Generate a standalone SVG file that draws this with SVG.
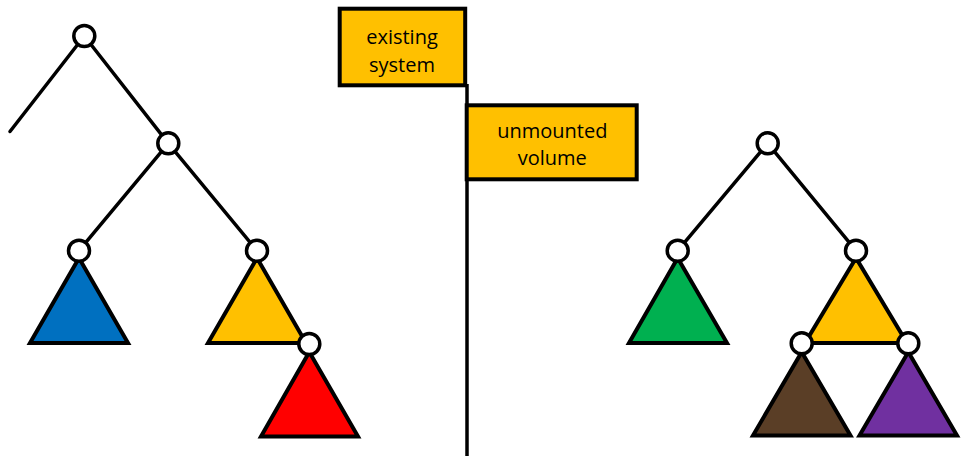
<svg xmlns="http://www.w3.org/2000/svg" width="961" height="456" viewBox="0 0 961 456">
  <style>
    .edge { stroke: #000; stroke-width: 3.5; fill: none; stroke-linecap: round; }
    .node { fill: #fff; stroke: #000; stroke-width: 3.5; }
    .tri { stroke: #000; stroke-width: 4; stroke-linejoin: miter; }
    .box { fill: #FFC000; stroke: #000; stroke-width: 4; }
    .label { font-family: "Open Sans", "Liberation Sans", sans-serif; font-size: 20px; fill: #000; text-anchor: middle; }
    .divider { stroke: #000; stroke-width: 3.5; }
  </style>

  <!-- divider between the two file systems -->
  <line class="divider" x1="467" y1="84" x2="467" y2="456"/>

  <g id="connectors">
    <!-- left tree -->
    <line class="edge" x1="84.3" y1="36" x2="10" y2="131.5"/>
    <line class="edge" x1="84.3" y1="36" x2="168.3" y2="143.3"/>
    <line class="edge" x1="168.3" y1="143.3" x2="79" y2="250.7"/>
    <line class="edge" x1="168.3" y1="143.3" x2="257" y2="250.7"/>
    <!-- right tree -->
    <line class="edge" x1="767.7" y1="143.3" x2="677.7" y2="250.7"/>
    <line class="edge" x1="767.7" y1="143.3" x2="856" y2="250.7"/>
  </g>

  <!-- subtrees -->
  <g id="subtree-blue"><polygon class="tri" fill="#0070C0" points="79,258 30,343 128,343"/></g>
  <g id="subtree-yellow-left"><polygon class="tri" fill="#FFC000" points="257,258 208,343 306,343"/></g>
  <g id="subtree-red"><polygon class="tri" fill="#FF0000" points="309.3,352 261,436.5 358,436.5"/></g>
  <g id="subtree-green"><polygon class="tri" fill="#00B050" points="677.7,258 629,343 727,343"/></g>
  <g id="subtree-yellow-right"><polygon class="tri" fill="#FFC000" points="856,258 805,343 907,343"/></g>
  <g id="subtree-brown"><polygon class="tri" fill="#5A3E26" points="801.7,352 753,435.5 850.5,435.5"/></g>
  <g id="subtree-purple"><polygon class="tri" fill="#7030A0" points="908.3,352 859.5,435.5 957,435.5"/></g>

  <!-- tree nodes -->
  <g id="node-left-root"><circle class="node" cx="84.3" cy="36" r="10.5"/></g>
  <g id="node-left-a"><circle class="node" cx="168.3" cy="143.3" r="10.5"/></g>
  <g id="node-left-b"><circle class="node" cx="79" cy="250.7" r="10.5"/></g>
  <g id="node-left-c"><circle class="node" cx="257" cy="250.7" r="10.5"/></g>
  <g id="node-left-d"><circle class="node" cx="309.3" cy="344" r="10.5"/></g>
  <g id="node-right-root"><circle class="node" cx="767.7" cy="143.3" r="10.5"/></g>
  <g id="node-right-a"><circle class="node" cx="677.7" cy="250.7" r="10.5"/></g>
  <g id="node-right-b"><circle class="node" cx="856" cy="250.7" r="10.5"/></g>
  <g id="node-right-c"><circle class="node" cx="801.7" cy="343.3" r="10.5"/></g>
  <g id="node-right-d"><circle class="node" cx="908.3" cy="343.3" r="10.5"/></g>

  <!-- labels -->
  <g id="label-existing">
    <rect class="box" x="339.7" y="8.7" width="125.5" height="76.6"/>
    <text class="label" x="402" y="43.5">existing</text>
    <text class="label" x="402" y="71.5">system</text>
  </g>
  <g id="label-unmounted">
    <rect class="box" x="466.7" y="105.3" width="170" height="74"/>
    <text class="label" x="552.3" y="138">unmounted</text>
    <text class="label" x="552.3" y="165">volume</text>
  </g>
</svg>
